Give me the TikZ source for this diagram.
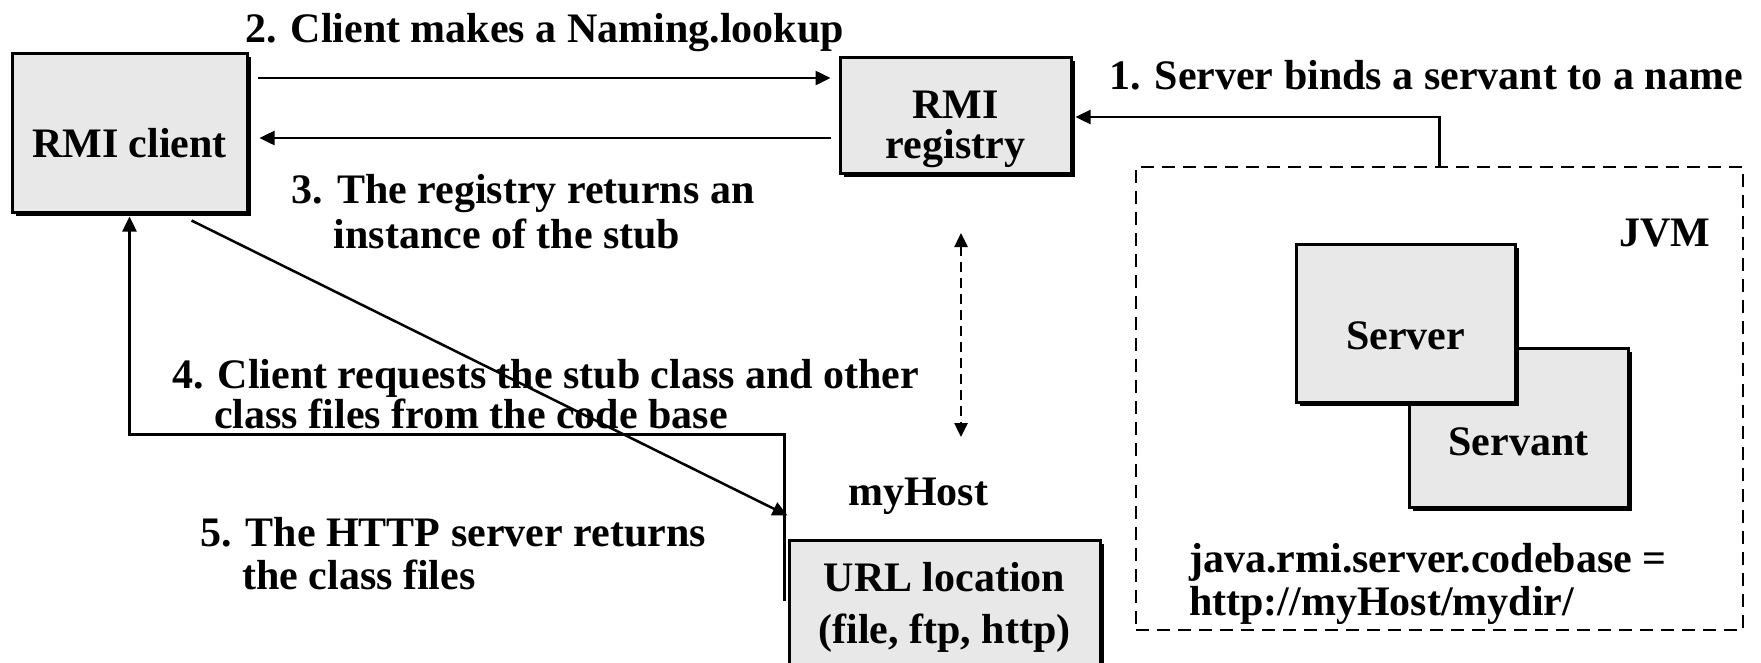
\documentclass[tikz,border=0pt]{standalone}
\usepackage{fontspec}
\setmainfont{Liberation Serif}
\usetikzlibrary{arrows.meta,calc,shadows}
\definecolor{boxgray}{HTML}{E8E8E8}
% centred box text, lowered/raised by #1 without changing the box size
\newcommand\boxtext[2]{\raisebox{#1}[0pt][0pt]{\begin{tabular}[t]{@{}c@{}}#2\end{tabular}}}
% left-aligned label whose baseline is that of its first line
\newcommand\mylines[1]{\begin{tabular}[t]{@{}l@{}}#1\end{tabular}}
\begin{document}
\begin{tikzpicture}[x=1pt,y=-1pt,
  every node/.style={font=\fontsize{42}{43}\selectfont\bfseries, inner sep=0pt},
  box/.style={draw=black, line width=3pt, fill=boxgray,
    general shadow={fill=black, shadow xshift=4pt, shadow yshift=-4pt}},
  arr/.style={line width=2.5pt, -{Triangle[length=15pt,width=14pt]}},
  darr/.style={line width=2.5pt, dash pattern=on 10pt off 6pt,
    {Triangle[length=14pt,width=13pt]}-{Triangle[length=14pt,width=13pt]}},
  lbl/.style={anchor=base west},
]
\useasboundingbox (0,0) rectangle (1761,662);

% boxes
\node[box, minimum width=235pt, minimum height=159pt] (client) at (129.5,132.5)
  {\boxtext{-24.5pt}{RMI client}};
\node[box, minimum width=231pt, minimum height=116pt,
  font=\fontsize{42}{37}\selectfont\bfseries] (reg) at (955.5,115)
  {\boxtext{-3pt}{RMI\\registry}};
\node[draw=black, line width=2.6pt, dash pattern=on 13pt off 8pt,
  minimum width=607pt, minimum height=463pt] (jvm) at (1439.5,398.5) {};
\node[box, minimum width=219pt, minimum height=159pt] (servant) at (1518.5,427.5)
  {\boxtext{-27.5pt}{Servant}};
\node[box, minimum width=219pt, minimum height=158pt] (server) at (1405.5,323)
  {\boxtext{-26pt}{Server}};
\node[box, minimum width=311pt, minimum height=180pt,
  font=\fontsize{42}{52}\selectfont\bfseries] (url) at (944.5,630)
  {\boxtext{39pt}{URL location\\(file, ftp, http)}};

% plain labels
\node[anchor=base] (jvmlbl) at (1665,246) {JVM};
\node[anchor=base] (host) at (918,505) {myHost};
\node[lbl] (l1) at (1109,89) {1. Server binds a servant to a name};
\node[lbl] (l2) at (245,42) {2. Client makes a Naming.lookup};
\node[lbl, font=\fontsize{42}{45}\selectfont\bfseries] (l3) at (291.5,203)
  {\mylines{3. The registry returns an\\\phantom{3.\ }instance of the stub}};
\node[lbl, font=\fontsize{42}{38}\selectfont\bfseries] (l4) at (172,388)
  {\mylines{4. Client requests the stub class and other\\\phantom{4.\ }class files from the code base}};
\node[lbl, font=\fontsize{42}{43}\selectfont\bfseries] (l5) at (200,546)
  {\mylines{5. The HTTP server returns\\\phantom{5.\ }the class files}};
\node[lbl, font=\fontsize{42}{43}\selectfont\bfseries] (cb) at (1189,572)
  {\mylines{java.rmi.server.codebase =\\http://myHost/mydir/}};

% connectors
\coordinate (reqstart) at ($(url.north west)+(-3,62)$);
\coordinate (sync top) at (961,233);
\coordinate (sync bot) at (961,437);

\draw[arr] (jvm.north) |- ($(reg.east)+(3,2)$);
\draw[arr] ($(client.east |- 0,78)+(9,0)$) -- ($(reg.west |- 0,78)+(-8,0)$);
\draw[arr] ($(reg.west |- 0,138)+(-8,0)$) -- ($(client.east |- 0,138)+(11,0)$);
\draw[arr] (reqstart) |- ($(client.south)+(0,221)$) -- ([yshift=-3pt]client.south);
\draw[arr] ($(client.south)+(62,7)$) -- ($(url.north west)+(0,-23)$);
\draw[darr] (sync top) -- (sync bot);
\end{tikzpicture}
\end{document}
